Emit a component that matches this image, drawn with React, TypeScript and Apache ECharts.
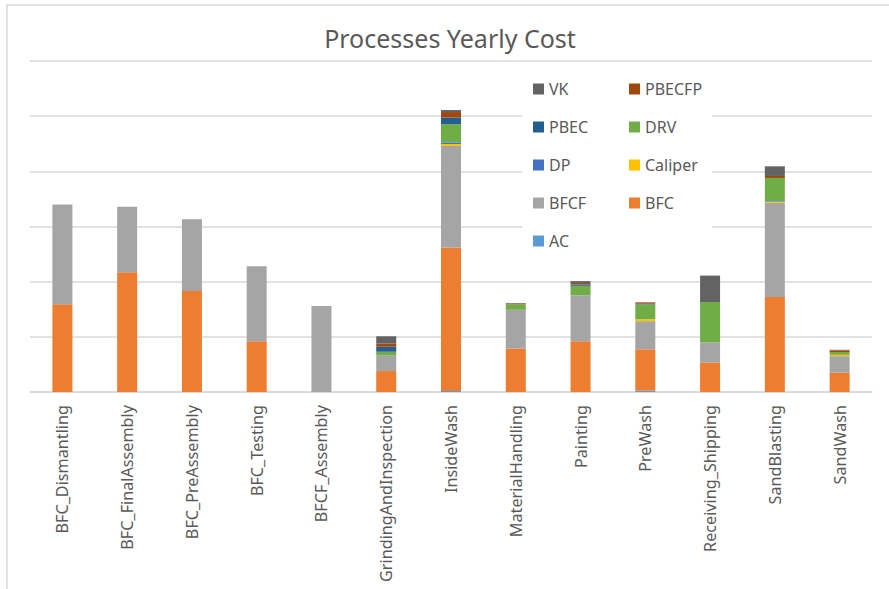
import React, { useEffect, useRef } from "react";
import * as echarts from "echarts";

const categories = [
  "BFC_Dismantling",
  "BFC_FinalAssembly",
  "BFC_PreAssembly",
  "BFC_Testing",
  "BFCF_Assembly",
  "GrindingAndInspection",
  "InsideWash",
  "MaterialHandling",
  "Painting",
  "PreWash",
  "Receiving_Shipping",
  "SandBlasting",
  "SandWash",
];

const seriesNames = ["AC", "BFC", "BFCF", "Caliper", "DP", "DRV", "PBEC", "PBECFP", "VK"];

const AC = [0, 0, 0, 0, 0, 0, 0.02, 0, 0, 0.024, 0, 0, 0];
const BFC = [1.59, 2.17, 1.83, 0.92, 0, 0.38, 2.6, 0.79, 0.92, 0.75, 0.53, 1.72, 0.35];
const BFCF = [1.81, 1.19, 1.3, 1.36, 1.56, 0.28, 1.84, 0.7, 0.835, 0.51, 0.37, 1.71, 0.3];
const Caliper = [0, 0, 0, 0, 0, 0, 0.035, 0, 0, 0.035, 0, 0.018, 0.024];
const DP = [0, 0, 0, 0, 0, 0, 0.03, 0, 0, 0, 0, 0.012, 0];
const DRV = [0, 0, 0, 0, 0, 0.07, 0.33, 0.1, 0.17, 0.27, 0.73, 0.42, 0.05];
const PBEC = [0, 0, 0, 0, 0, 0.09, 0.12, 0, 0.025, 0.012, 0, 0, 0];
const PBECFP = [0, 0, 0, 0, 0, 0.06, 0.1, 0.013, 0.025, 0.024, 0, 0.036, 0.03];
const VK = [0, 0, 0, 0, 0, 0.13, 0.036, 0.01, 0.035, 0, 0.48, 0.175, 0.011];

const seriesValues = [AC, BFC, BFCF, Caliper, DP, DRV, PBEC, PBECFP, VK];

const colors = ["#5B9BD5", "#ED7D31", "#A5A5A5", "#FFC000", "#4472C4", "#70AD47", "#255E91", "#9E480E", "#636363"];

const legendLeftCol = ["VK", "PBEC", "DP", "BFCF", "AC"];
const legendRightCol = ["PBECFP", "DRV", "Caliper", "BFC"];

const FONT = "'Noto Sans', 'DejaVu Sans', sans-serif";
const TEXT = "#595959";
const GRID = "#D9D9D9";

export default function App() {
  const ref = useRef<HTMLDivElement>(null);

  useEffect(() => {
    if (!ref.current) return;
    const chart = echarts.init(ref.current, undefined, { renderer: "svg" });
    const legendBase = {
      orient: "vertical" as const,
      top: 81,
      padding: 0,
      itemWidth: 11,
      itemHeight: 11,
      itemGap: 22,
      icon: "rect",
      selectedMode: false,
      textStyle: { fontFamily: FONT, fontSize: 16, color: TEXT, lineHeight: 16 },
    };
    chart.setOption({
      animation: false,
      color: colors,
      textStyle: { fontFamily: FONT },
      title: {
        text: "Processes Yearly Cost",
        left: 450,
        textAlign: "center",
        top: 25,
        padding: 0,
        textStyle: { fontFamily: FONT, fontSize: 25, fontWeight: "normal", color: TEXT },
      },
      graphic: [
        {
          type: "rect",
          z: 0,
          silent: true,
          shape: { x: 7, y: 5, width: 1000, height: 1000 },
          style: { fill: "none", stroke: GRID, lineWidth: 1.5 },
        },
        {
          type: "rect",
          z: 1,
          silent: true,
          shape: { x: 522, y: 68, width: 190, height: 200 },
          style: { fill: "#ffffff" },
        },
      ],
      legend: [
        { ...legendBase, left: 533, data: legendLeftCol },
        { ...legendBase, left: 629, data: legendRightCol },
      ],
      grid: { left: 30, right: 17, top: 61, bottom: 197 },
      xAxis: {
        type: "category",
        data: categories,
        axisTick: { show: false },
        axisLine: { lineStyle: { color: GRID, width: 1.5 } },
        axisLabel: {
          rotate: 90,
          interval: 0,
          margin: 13,
          fontFamily: FONT,
          fontSize: 16.2,
          color: TEXT,
        },
      },
      yAxis: {
        type: "value",
        min: 0,
        max: 6,
        interval: 1,
        axisLabel: { show: false },
        axisLine: { show: false },
        axisTick: { show: false },
        splitLine: { lineStyle: { color: GRID, width: 1.5 } },
      },
      series: seriesNames.map((name, i) => ({
        name,
        type: "bar",
        stack: "total",
        barWidth: 20,
        data: seriesValues[i],
        itemStyle: { color: colors[i] },
      })),
    });
    return () => chart.dispose();
  }, []);

  return (
    <div
      ref={ref}
      style={{ position: "fixed", left: 0, top: 0, width: 889, height: 589, background: "#fff" }}
    />
  );
}
